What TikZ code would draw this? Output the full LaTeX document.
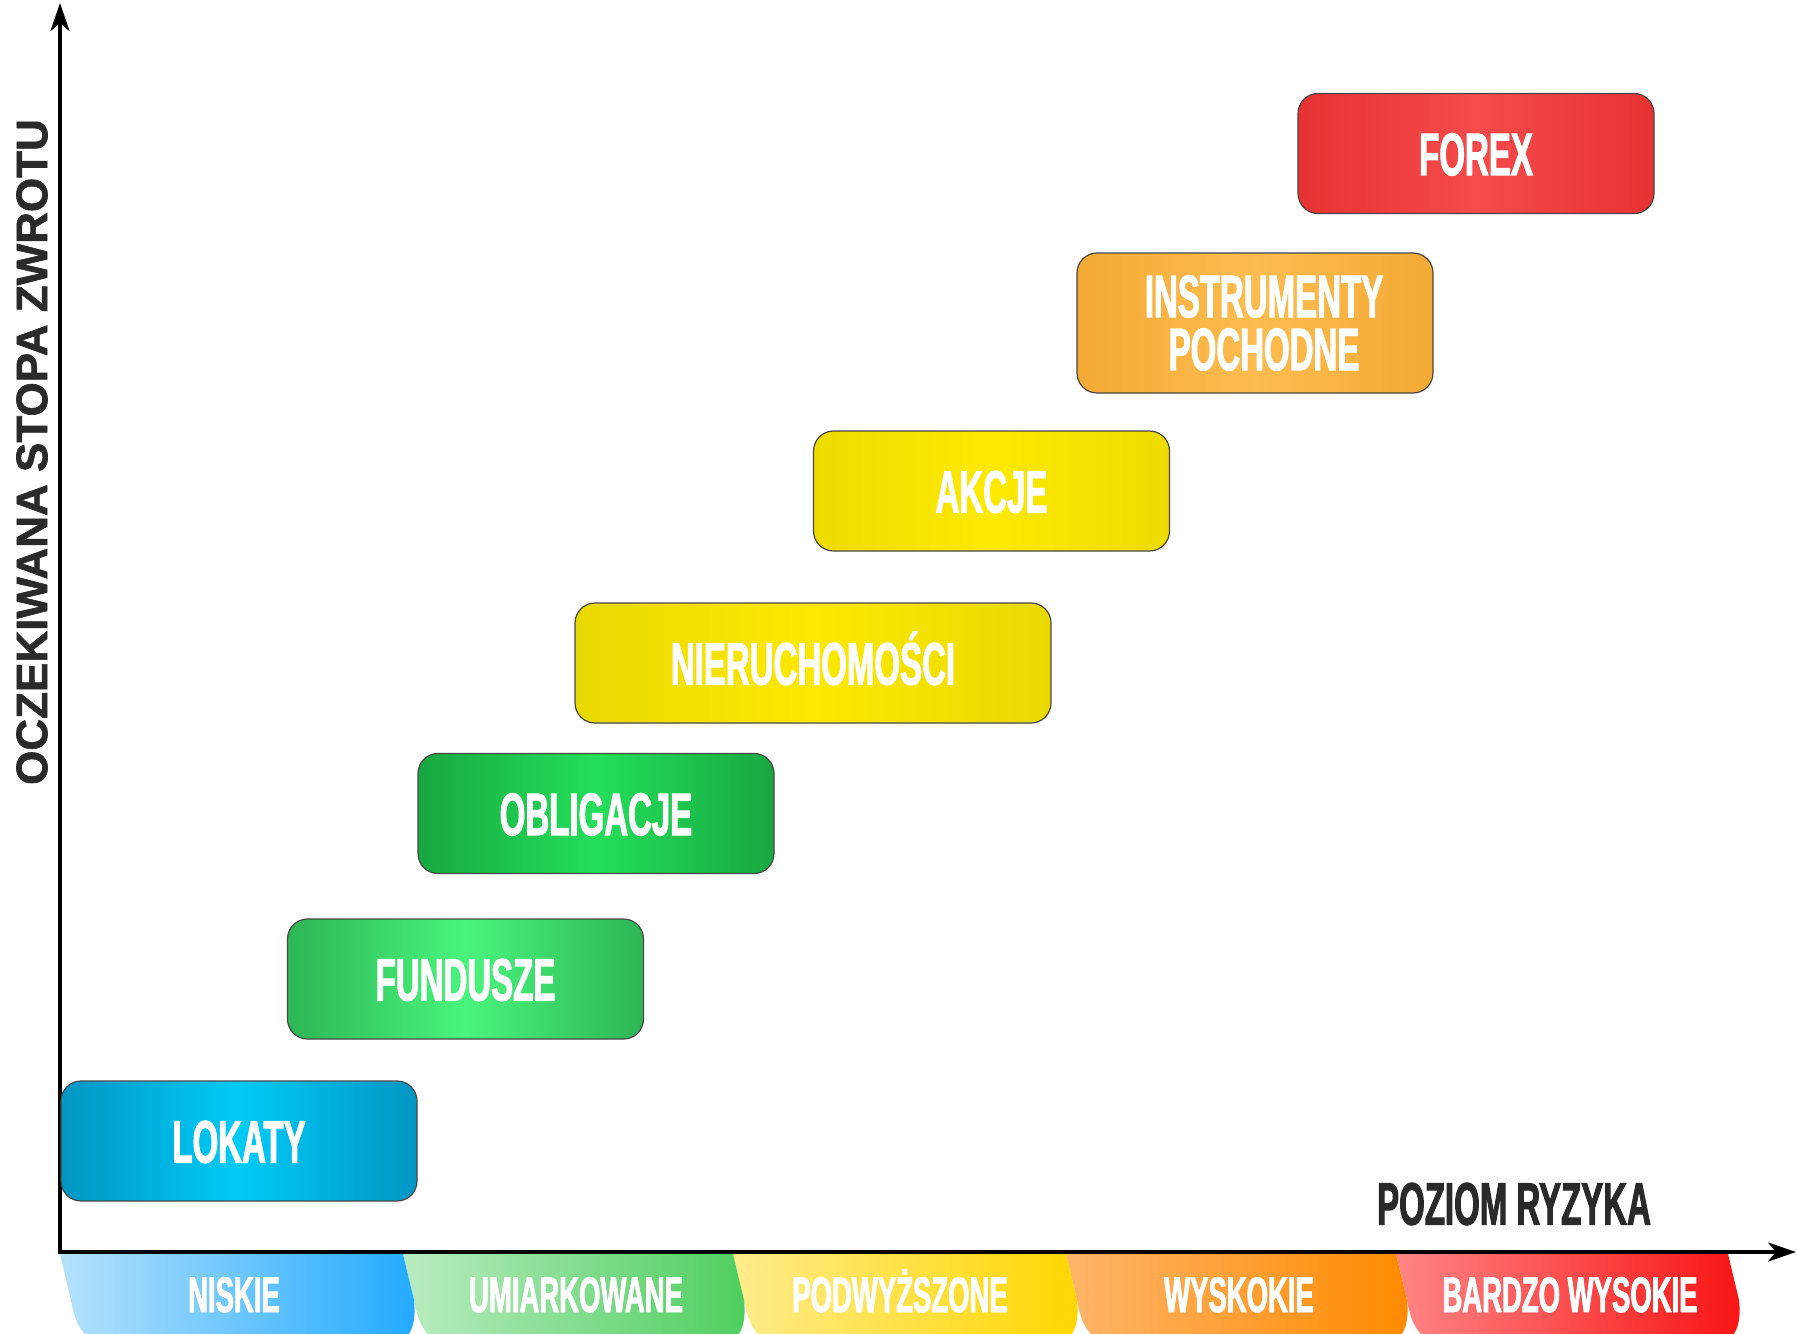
\documentclass[tikz,border=0pt]{standalone}
\usepackage{fontspec}
\usetikzlibrary{arrows.meta}
\newfontfamily\impact[FakeStretch=0.55,FakeBold=1.6]{Liberation Sans Bold}
\newfontfamily\labelfont[FakeBold=1.4]{Liberation Sans Bold}
\definecolor{axisgray}{HTML}{2A2A2A}
\definecolor{lokE}{HTML}{0396C3}\definecolor{lokM}{HTML}{00CAF7}
\definecolor{funE}{HTML}{2DB554}\definecolor{funM}{HTML}{4AF57C}
\definecolor{oblE}{HTML}{18A840}\definecolor{oblM}{HTML}{24DE5A}
\definecolor{nieE}{HTML}{E8D900}\definecolor{nieM}{HTML}{FDE800}
\definecolor{akcE}{HTML}{EEDC00}\definecolor{akcM}{HTML}{FDE900}
\definecolor{insE}{HTML}{F4AA35}\definecolor{insM}{HTML}{FDBC4F}
\definecolor{forE}{HTML}{E83232}\definecolor{forM}{HTML}{F54B4B}
\definecolor{t1L}{HTML}{B5E2FC}\definecolor{t1M}{HTML}{5CC4FD}\definecolor{t1R}{HTML}{22AAFF}
\definecolor{t2L}{HTML}{B9ECC0}\definecolor{t2M}{HTML}{86DE90}\definecolor{t2R}{HTML}{4ECE5E}
\definecolor{t3L}{HTML}{FFEC8C}\definecolor{t3M}{HTML}{FFDD30}\definecolor{t3R}{HTML}{FFD600}
\definecolor{t4L}{HTML}{FFB56A}\definecolor{t4M}{HTML}{FF8C00}\definecolor{t4R}{HTML}{FF8A00}
\definecolor{t5L}{HTML}{FF8585}\definecolor{t5M}{HTML}{F81818}\definecolor{t5R}{HTML}{F81414}
\newcommand\risktab[5]{%
  \shade[left color=#3, middle color=#4, right color=#5]
    (#1,1254) -- (#1+11,1300)
    .. controls (#1+17,1336) and (#1+32,1346) .. (#1+62,1346)
    -- (#2-22,1346)
    .. controls (#2+6,1346) and (#2+14,1328) .. (#2+11,1300)
    -- (#2,1254) -- cycle;}
\begin{document}
\begin{tikzpicture}[x=0.5pt,y=-0.5pt,
  box/.style={draw=black!72, line width=0.6pt, rounded corners=10pt,
    minimum width=178pt, minimum height=60pt, inner sep=0pt,
    text=white, font=\impact\fontsize{30}{26}\selectfont,
    text height=21.6pt, text depth=0pt},
  tablabel/.style={text=white, inner sep=0pt,
    font=\impact\fontsize{25}{25}\selectfont,
    text height=18pt, text depth=0pt},
  axis/.style={line width=1.6pt, draw=black,
    -{Stealth[length=14pt,width=9.5pt,inset=4pt]}}]
\useasboundingbox (0,0) rectangle (1797,1333);
\fill[white] (0,0) rectangle (1797,1333);

% risk tabs (drawn right to left so each covers the next one's edge)
\begin{scope}
\clip (0,0) rectangle (1797,1333);
\risktab{1396}{1728}{t5L}{t5M}{t5R}
\risktab{1066}{1396}{t4L}{t4M}{t4R}
\risktab{733}{1066}{t3L}{t3M}{t3R}
\risktab{403}{733}{t2L}{t2M}{t2R}
\risktab{60}{403}{t1L}{t1M}{t1R}
\end{scope}

\node[tablabel] (niskie) at (234,1294) {NISKIE};
\node[tablabel] (umiark) at (576,1294) {UMIARKOWANE};
\node[tablabel] (podw) at (900,1294) {PODWYŻSZONE};
\node[tablabel] (wysk) at (1239,1294) {WYSKOKIE};
\node[tablabel] (bardzo) at (1570,1294) {BARDZO WYSOKIE};

% axes
\coordinate (O) at (60,1252);
\coordinate (Xend) at (1796,1252);
\coordinate (Yend) at (60,3);
\draw[axis] (O) -- (Xend);
\draw[axis] ([yshift=-0.8pt]O) -- (Yend);

\node[rotate=90, text=axisgray, inner sep=0pt,
  font=\labelfont\fontsize{22}{22}\selectfont] (ylab) at (32,452)
  {OCZEKIWANA STOPA ZWROTU};
\node[text=axisgray, inner sep=0pt,
  font=\impact\fontsize{30}{30}\selectfont] (xlab) at (1514,1204)
  {POZIOM RYZYKA};

% investment boxes
\node[box, left color=lokE, right color=lokE, middle color=lokM]
  (lokaty) at (239,1141) {LOKATY};
\node[box, left color=funE, right color=funE, middle color=funM]
  (fundusze) at (465.5,979) {FUNDUSZE};
\node[box, left color=oblE, right color=oblE, middle color=oblM]
  (oblig) at (596,813.5) {OBLIGACJE};
\node[box, minimum width=238pt, left color=nieE, right color=nieE, middle color=nieM]
  (nieruch) at (813,663) {NIERUCHOMOŚCI};
\node[box, left color=akcE, right color=akcE, middle color=akcM]
  (akcje) at (991.5,491) {AKCJE};
\node[box, minimum height=70pt, text height=, text depth=, align=center,
  font=\impact\fontsize{30}{26.5}\selectfont,
  left color=insE, right color=insE, middle color=insM] (instr) at (1255,323)
  {\hspace*{9pt}INSTRUMENTY\\\hspace*{9pt}POCHODNE};
\node[box, left color=forE, right color=forE, middle color=forM]
  (forex) at (1476,153.5) {FOREX};
\end{tikzpicture}
\end{document}
